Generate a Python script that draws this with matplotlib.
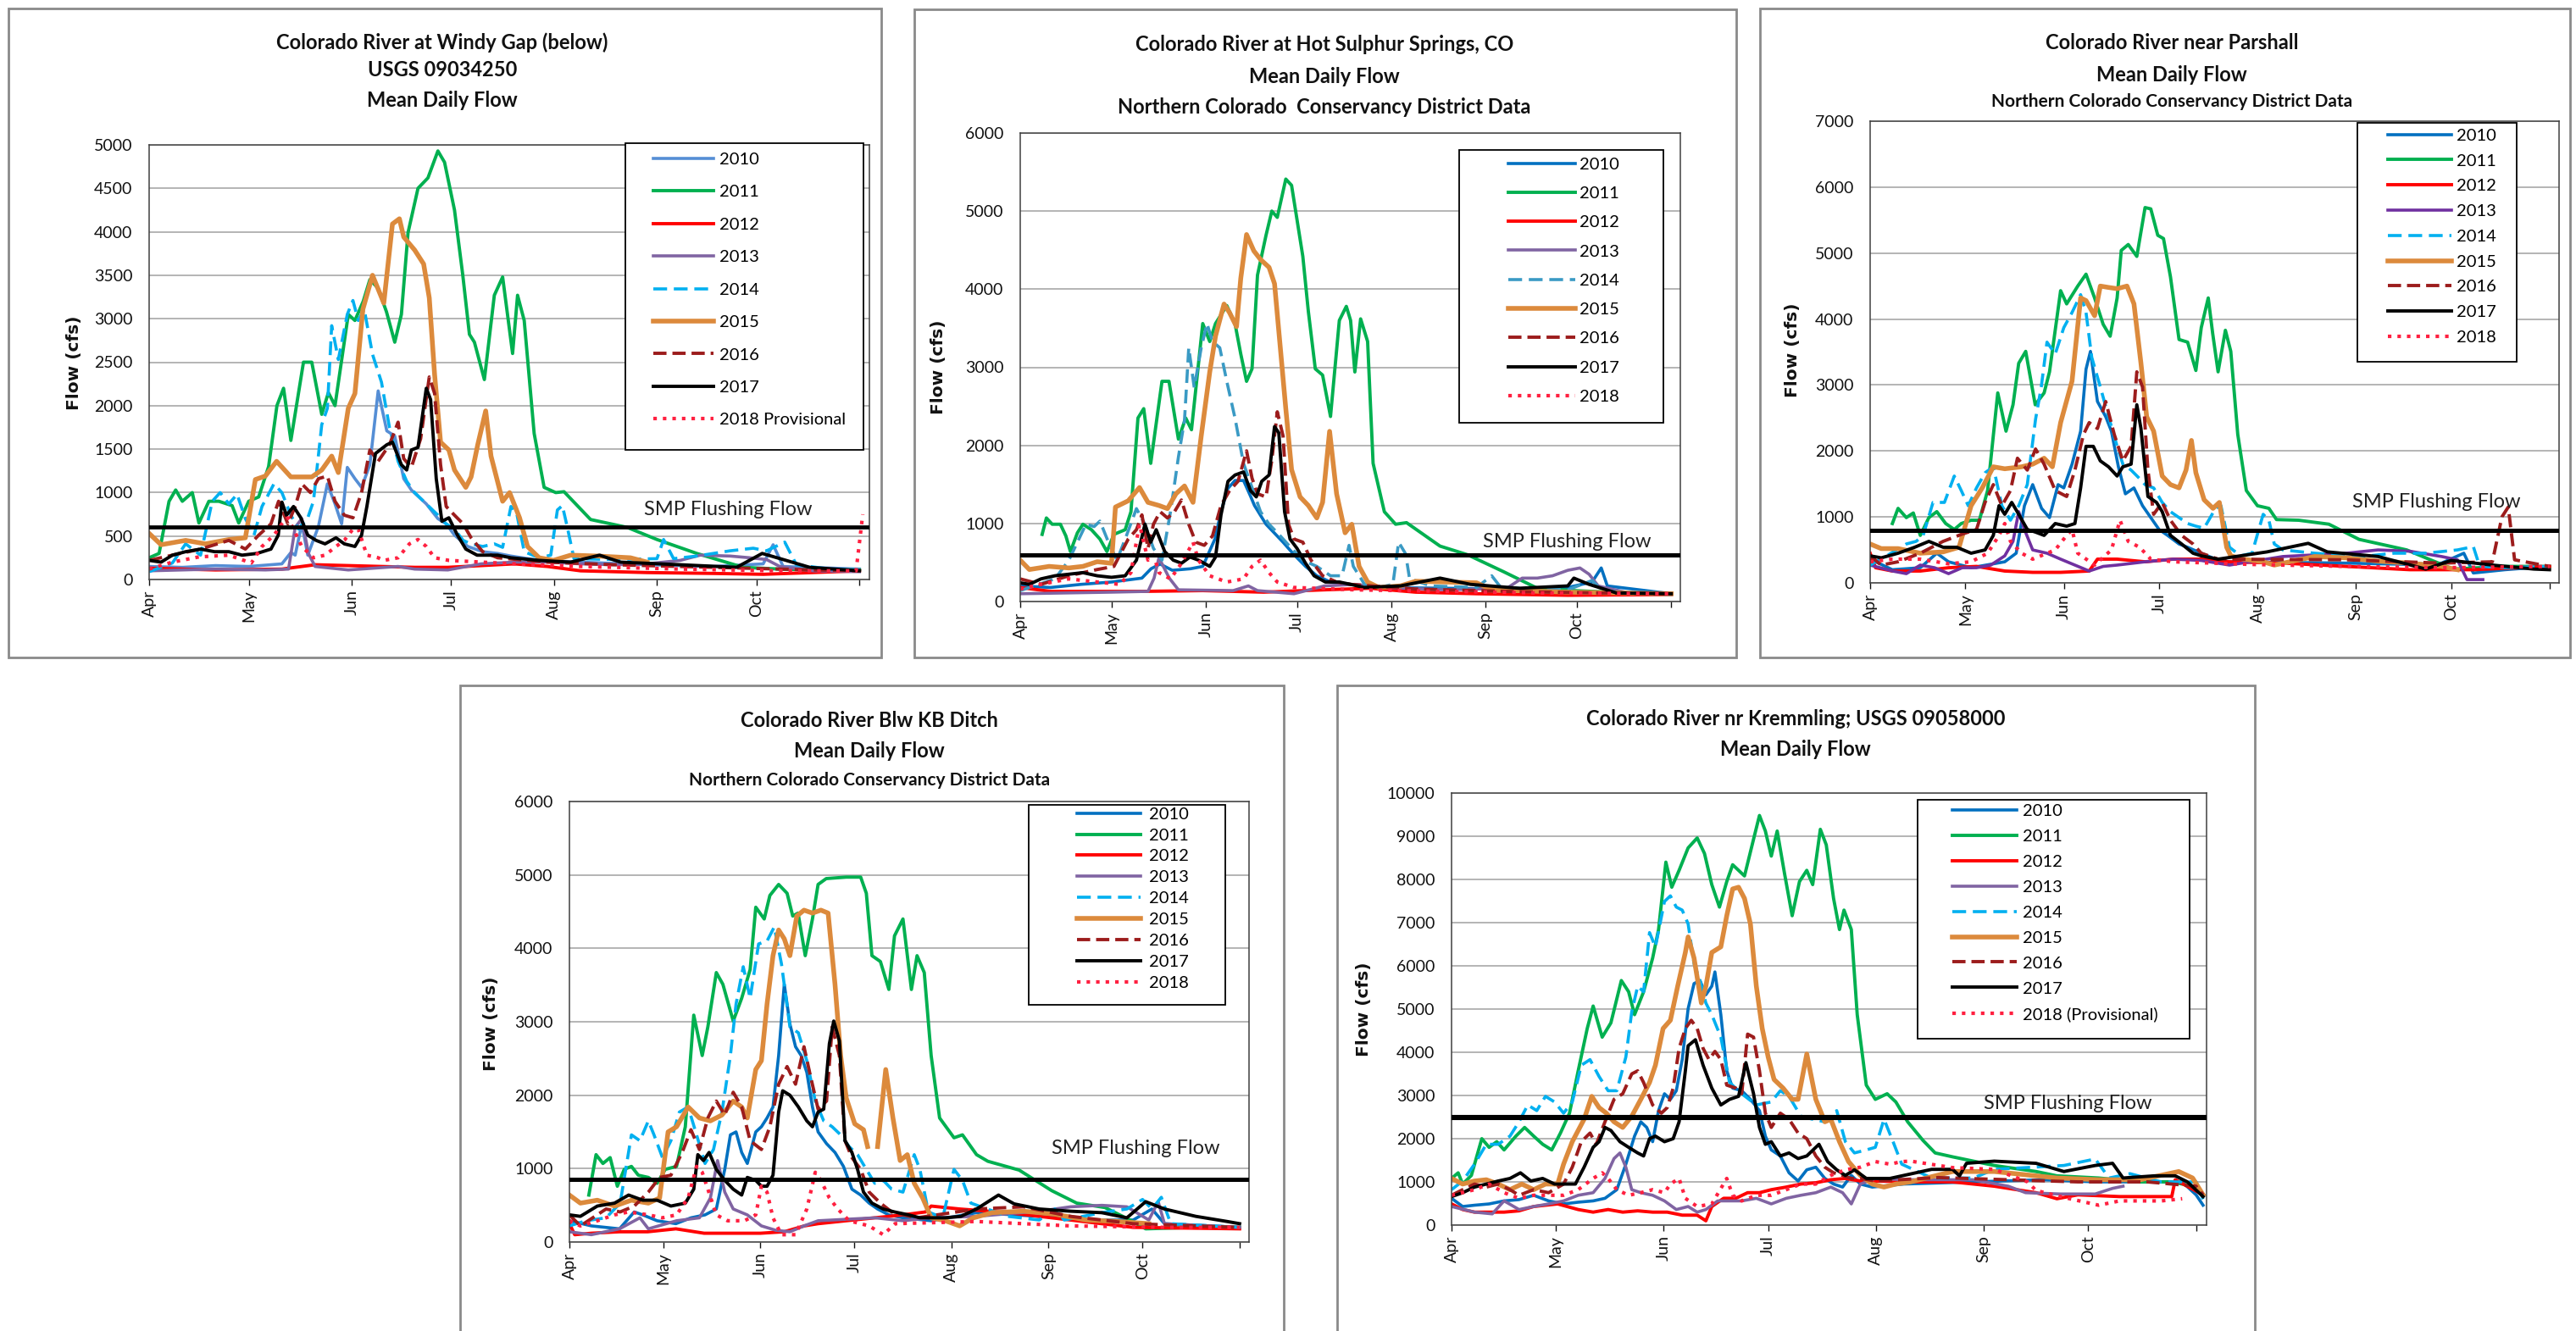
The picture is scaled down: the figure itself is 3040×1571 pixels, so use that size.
import numpy as np
import matplotlib
matplotlib.use("Agg")
import matplotlib.pyplot as plt
from matplotlib.patches import Rectangle

W, H = 3040, 1571
plt.rcParams["font.family"] = ["Lato", "DejaVu Sans"]
nan = float("nan")

YEARS = ["2010", "2011", "2012", "2013", "2014", "2015", "2016", "2017", "2018"]
MONTHS = ["Apr", "May", "Jun", "Jul", "Aug", "Sep", "Oct", ""]
MONTH_DAYS = [0, 30, 61, 91, 122, 153, 183, 214]   # days after Apr 1

# ---------------- Colorado River at Windy Gap (below) ----------------
wg_2010 = [(0,150),(10,140),(20,160),(30,150),(40,180),(42.7,310),(44,280),(46,640),(47.8,280),(51,610),(53.7,1100),(56,870),(58,640),(59.7,1290),(62,1160),(64,1060),(66.5,1320),(69,2170),(71.6,1710),(74,1650),(76.7,1160),(79,1030),(83.5,870),(87,700),(89.5,640),(92,510),(96,380),(100.5,320),(105,300),(109,270),(117.5,220),(130,200),(150,170),(170,150),(185,180),(188,400),(191,150),(214,120)]
wg_2011 = [(0,250),(3,300),(6,900),(8,1030),(10,900),(13,1000),(15,650),(18,900),(21,900),(25,850),(27,650),(30,900),(33,950),(36,1300),(38.5,2000),(40.5,2200),(42.7,1600),(46.5,2500),(49,2500),(52,1900),(54,2150),(56,2000),(60,3050),(62,2980),(64.5,3200),(66.5,3450),(69,3350),(71.5,3080),(74,2730),(76,3050),(78,3990),(81,4500),(84,4620),(87,4930),(89,4800),(92,4250),(94.5,3500),(96.5,2820),(98,2730),(101,2300),(104,3270),(106.5,3480),(109.5,2600),(111,3270),(113,2980),(116,1680),(119,1060),(122.5,1000),(125,1010),(133,690),(144,600),(153,460),(165,300),(179,140),(190,120),(200,110),(214,110)]
wg_2012 = [(0,130),(20,110),(40,120),(50,170),(60,160),(70,150),(80,140),(90,140),(100,160),(110,180),(120,150),(130,100),(150,80),(170,70),(185,60),(200,80),(214,100)]
wg_2013 = [(0,100),(20,120),(35,110),(42,120),(44,600),(46,700),(48,300),(50,150),(60,110),(75,150),(80,120),(90,110),(100,180),(110,200),(120,200),(130,180),(140,170),(150,180),(160,220),(166,280),(175,270),(181,250),(186,230),(190,150),(200,100),(214,90)]
wg_2014 = [(0,90),(7,190),(11,410),(15.5,280),(19,900),(21.4,1000),(24,870),(26.5,980),(29,700),(31.6,510),(34,840),(37.6,1100),(40,1000),(42.7,740),(45,580),(47.8,710),(49.5,900),(52,1780),(53.7,1970),(55,2920),(57,2530),(59.7,3050),(61.4,3210),(63,2980),(64.8,3110),(67.3,2590),(70,2270),(72.4,1750),(75,1360),(77.6,1130),(80,1000),(83.5,870),(87,740),(89.5,640),(92,580),(94.6,450),(97,410),(100.5,380),(104,410),(106.5,370),(109,840),(110.7,770),(113,320),(117.5,250),(121,280),(123,800),(124.5,850),(126,600),(128,240),(140,230),(153,240),(155,460),(158,240),(165,270),(175,330),(182,360),(186,330),(191.5,430),(195,170),(205,120),(214,110)]
wg_2015 = [(0,530),(3.6,400),(11,450),(17,410),(24,460),(29,480),(32,1150),(35,1190),(38.4,1360),(42.7,1180),(46,1180),(49,1180),(52,1260),(55,1420),(57,1230),(60,1970),(62,2140),(64.4,3110),(67.3,3500),(70.7,3180),(73.3,4090),(75.4,4150),(76.7,3940),(80,3790),(82.7,3630),(84.4,3240),(86,2360),(87.8,1580),(90.3,1490),(92,1260),(95.4,1060),(97,1180),(99,1550),(101.4,1940),(103,1420),(106.5,900),(108.6,1000),(111.6,710),(114,380),(117.5,250),(121.8,220),(127,280),(135,270),(145,250),(150,200)]
wg_2016 = [(0,220),(7,280),(15.5,350),(24,450),(29,350),(33,510),(36.7,640),(39,900),(41.8,640),(44,840),(46,1100),(48.6,1000),(51,1160),(53.7,1190),(56,900),(58.8,740),(61.4,710),(64,1000),(66.5,1490),(69,1360),(72.4,1550),(75,1810),(76.7,1390),(79,1290),(81.8,1620),(84.4,2330),(86,2140),(87.8,1320),(89.5,840),(92,740),(94.6,640),(97,480),(100.5,320),(105,250),(120,200),(140,170),(160,150),(180,130),(200,110),(214,100)]
wg_2017 = [(0,220),(3.6,200),(7,280),(11,320),(15.5,350),(19.7,320),(24,320),(28,280),(32.5,300),(36.7,350),(38.9,510),(40,890),(41.4,740),(43.5,840),(45.7,710),(47.8,510),(50.3,450),(53,410),(56.3,480),(58.8,410),(62,380),(64,510),(65.6,840),(68.2,1450),(71.6,1550),(73.3,1580),(76,1320),(77.6,1260),(79,1490),(81,1520),(83.5,2200),(84.8,2070),(86.5,1160),(88.2,670),(90.3,710),(92.9,510),(95.4,350),(98.8,280),(105,280),(109,250),(117.5,220),(127,200),(135.7,280),(142,200),(160,170),(177,140),(184.7,300),(191,230),(199,140),(214,100)]
wg_2018 = [(0,120),(7,200),(15,260),(24,280),(30.8,190),(34,380),(37.6,510),(40,640),(41.8,710),(43.5,580),(46,380),(49.5,250),(53,280),(56.3,380),(58.8,450),(61.4,580),(63,580),(65.6,280),(69,250),(70.7,220),(75,250),(78.4,410),(81,460),(83.5,380),(86,250),(90.3,220),(110,180),(130,150),(160,120),(190,100),(213,100),(215,750)]

# ---------------- Colorado River at Hot Sulphur Springs ----------------
hs_2010 = [(0,200),(10,180),(20,220),(30,250),(40,300),(43,420),(46,480),(50,400),(56,420),(60,450),(64,800),(66,1150),(68.3,1450),(70.6,1550),(73.4,1550),(75.7,1350),(77,1230),(80.8,990),(86.4,760),(90,600),(93.8,450),(97.5,330),(102,250),(108.6,220),(117.9,180),(140,170),(160,160),(180,180),(188,250),(191,430),(193,200),(214,100)]
hs_2011 = [(7.2,860),(8.6,1070),(10.5,990),(13.2,990),(15,840),(16.5,640),(18.8,880),(20.6,990),(23.4,920),(26.2,800),(28.5,640),(30.8,860),(34.5,920),(36.4,1150),(38.7,2350),(40.6,2470),(42.9,1770),(46.6,2820),(48.9,2820),(52,2080),(54.4,2350),(56.3,2200),(60,3560),(62.3,3330),(64.2,3560),(67.9,3790),(70.6,3560),(72.5,3170),(74.4,2820),(76.2,2980),(78,4180),(80.8,4690),(82.7,5000),(84.5,4920),(87.3,5410),(89.2,5330),(92.9,4420),(94.7,3720),(97,2980),(99.4,2900),(102,2370),(104.9,3600),(107.2,3780),(108.6,3600),(110,2940),(111.9,3620),(114.2,3330),(116,1770),(119.7,1150),(123.4,990),(127,1010),(138,710),(147,600),(159,380),(170,170),(182,140),(200,110),(214,100)]
hs_2012 = [(0,180),(10,130),(40,130),(60,140),(80,120),(100,150),(115,170),(130,120),(150,100),(180,80),(214,90)]
hs_2013 = [(0,100),(15,110),(30,120),(42,130),(44,300),(45.6,560),(49,300),(52,150),(70,140),(75,200),(78,140),(90,100),(100,200),(110,220),(120,180),(140,150),(160,170),(165,300),(170,300),(175,330),(180,400),(184,430),(187,350),(190,200),(200,110),(214,90)]
hs_2014 = [(0,140),(11.4,290),(16,530),(18.8,760),(21.6,990),(24.3,960),(26.2,1030),(29,760),(31.8,530),(34.5,800),(38.2,1190),(41,990),(43.8,680),(46.6,530),(49.4,1150),(52,1850),(54,2320),(55.4,3250),(57.2,2740),(59.5,3250),(61.4,3560),(63.2,3330),(65.6,3250),(67.9,2820),(70.6,2350),(73.4,1770),(76.2,1460),(79,1150),(81.8,990),(85.5,840),(89.2,680),(92.9,530),(97.5,450),(102,330),(105.8,330),(108.1,720),(109.5,450),(113.2,220),(117.9,180),(122.5,220),(124.4,760),(126.7,610),(128,290),(135,200),(150,180),(155,330),(158,180),(180,150),(188,270),(191,150),(200,100),(214,90)]
hs_2015 = [(0,530),(3,410),(9.5,450),(16,430),(20.6,450),(25.3,510),(30,490),(31.3,1210),(35.5,1290),(39.2,1460),(42,1270),(45.6,1230),(48.4,1190),(51.2,1380),(54,1480),(56.8,1270),(59.5,2120),(62.3,2940),(64.2,3400),(67,3810),(68.8,3700),(71.1,3520),(72.5,4140),(74.4,4700),(76.8,4490),(79,4380),(81.8,4280),(83.6,4070),(85.5,3250),(87.3,2470),(89.2,1690),(92,1340),(94.7,1230),(97.5,1070),(99.4,1270),(101.7,2180),(104,1380),(106.8,880),(109,990),(111.4,450),(114.2,250),(117.9,180),(125,200),(130,260),(150,240),(155,150),(180,120),(214,100)]
hs_2016 = [(0,290),(6.8,220),(16,330),(25.3,410),(30.8,450),(35.5,800),(38.2,920),(40,1110),(42,680),(43.8,990),(46,1150),(48.4,1070),(50.7,1150),(53,1300),(55.4,990),(57.7,760),(60.5,720),(63.2,840),(66,1230),(68.8,1420),(71.6,1540),(74.4,1930),(76.2,1580),(78,1380),(80.8,1340),(82.7,1810),(84.5,2430),(86.4,2120),(88.2,990),(90,800),(92.9,760),(95.6,530),(99.4,330),(104,250),(108.6,220),(130,160),(160,130),(190,110),(214,100)]
hs_2017 = [(0,240),(3,220),(6.8,290),(11.4,330),(16,350),(20.6,370),(25.3,330),(30,310),(34.5,330),(38.2,530),(41,990),(42.9,760),(44.7,920),(47.5,640),(50.3,530),(53,490),(55.8,570),(58.6,530),(62.3,450),(64.2,570),(66,1110),(68.3,1540),(70.6,1620),(73.4,1660),(75.7,1420),(77.6,1340),(79.4,1540),(81.8,1620),(83.6,2240),(85,2160),(86.9,1150),(88.7,800),(91,680),(93.8,490),(96.6,330),(100.3,250),(104.9,250),(108.6,220),(113,180),(125,200),(138,300),(148,220),(164,170),(180,200),(182,300),(187,220),(196,110),(214,100)]
hs_2018 = [(0,160),(6.8,220),(16,290),(25.3,250),(32.7,220),(36.4,370),(39.2,990),(42,530),(43.8,600),(45.6,370),(49.4,290),(53,490),(56.8,760),(58.6,530),(62.3,330),(67.9,250),(73.4,290),(76.2,450),(79,530),(81.8,370),(84.5,250),(90,180),(110,150),(140,130),(170,110),(214,100)]

# ---------------- Colorado River near Parshall ----------------
pa_2010 = [(0,360),(7,200),(15.8,230),(21,450),(24.7,320),(31.8,230),(42.4,320),(46,450),(48.6,1170),(51.2,1490),(54,1130),(56.5,990),(59.2,1490),(61,1440),(63.6,1800),(66.3,2300),(68,3240),(69.4,3510),(71.6,2750),(74.2,2520),(76,2300),(78.2,1760),(80.4,1350),(83.1,1440),(85.8,1170),(88.4,990),(91,810),(93.7,720),(97.3,590),(100,540),(104.3,450),(108.8,360),(113.2,320),(150,300),(170,280),(180,300),(187,450),(190,150),(200,200),(214,250)]
pa_2011 = [(7,900),(8.8,1130),(11.4,990),(13.6,1060),(15.8,720),(18.5,990),(21,1080),(23.8,900),(26.5,810),(28.7,900),(31.8,950),(34.4,950),(37,1400),(40.2,2880),(42.8,2300),(45,2700),(46.8,3330),(49,3510),(52,2700),(54.8,2880),(56.5,3200),(60,4430),(61.9,4230),(65.4,4500),(68,4680),(70.7,4320),(73.4,3920),(75.6,3740),(77.8,4320),(79.1,5040),(81.3,5130),(84,4950),(86.6,5690),(88.4,5670),(90.6,5270),(92.4,5220),(94.6,4640),(97.3,3690),(100,3650),(102.6,3220),(104.3,3870),(106.5,4320),(107.9,3780),(109.6,3200),(111.9,3830),(113.6,3510),(115.8,2250),(118.5,1400),(122,1170),(125.6,1130),(128,960),(135,950),(144.5,890),(154,660),(169,500),(177,340),(183.6,210),(200,250),(214,250)]
pa_2012 = [(0,450),(1.7,230),(7,180),(15.8,180),(24.7,230),(33.5,250),(42.4,180),(51.2,160),(60,160),(69,180),(71.6,360),(77.8,360),(86.6,320),(95.5,360),(104.3,360),(113,320),(130,300),(150,250),(170,200),(190,200),(214,250)]
pa_2013 = [(0,270),(7,180),(11.4,140),(15.8,270),(20.3,230),(24.7,140),(29,230),(33.5,230),(38,270),(42.4,410),(45,630),(46.8,1080),(48.6,810),(51.2,500),(55.7,450),(60,360),(64.5,270),(69,180),(73.4,250),(77.8,270),(86.6,320),(95.5,360),(104.3,340),(113.2,270),(130,400),(150,450),(160,500),(170,480),(180,400),(185,350),(188,50),(193,50)]
pa_2014 = [(0,270),(5.2,410),(11.4,590),(14.5,630),(16.7,720),(19.8,1220),(23.4,1220),(26.5,1620),(28.7,1400),(30.9,1170),(33.5,1440),(36.2,1670),(38.8,1760),(41.5,1170),(44.2,950),(46.8,1170),(49.5,1490),(52.1,2480),(53.9,2970),(55.7,3650),(58.3,3470),(61,3870),(63.6,4100),(66.3,4370),(68,4100),(69.8,3420),(72.5,2970),(75.1,2520),(77.8,2070),(79.6,1800),(82.2,1710),(84.9,1580),(86.6,1490),(89.3,1440),(92,1220),(94.6,1080),(97.3,990),(100,900),(102.6,860),(105.2,830),(108.8,1130),(110.5,1170),(113.2,540),(116.7,410),(120.3,450),(123.8,1040),(125.6,950),(127.3,590),(130,500),(140,450),(155,400),(165,450),(175,450),(185,500),(190,550),(192,250),(200,230),(214,250)]
pa_2015 = [(0,590),(3.5,520),(8.8,520),(15.8,450),(23,470),(28,540),(31.8,1170),(35.3,1440),(38.8,1760),(42.4,1730),(47.7,1760),(51.2,1800),(54.8,1890),(57.4,1760),(60,2430),(63.6,3060),(66.3,4320),(68,4280),(70.7,4050),(72.5,4500),(75,4480),(77.8,4460),(80.9,4500),(83.1,4230),(85.3,3330),(87.1,2520),(89.3,2300),(92,1620),(94.6,1490),(97.3,1440),(99.5,1710),(101.2,2160),(102.6,1670),(105.2,1260),(108,1130),(110,1220),(112.3,540),(113.6,410),(117.6,360),(123.8,320),(127.3,270),(140,400),(150,380),(160,330),(170,300),(180,250),(185,200)]
pa_2016 = [(0,410),(3.5,270),(8.8,320),(15.8,450),(23,630),(29,740),(33.5,810),(36.2,1220),(38.8,1490),(41.5,1170),(44.2,1400),(46.4,1890),(49.5,1710),(52.1,2030),(54.8,1800),(58.3,1400),(61.9,1310),(64.5,1710),(67.2,2250),(69,2430),(71.6,2340),(74.2,2750),(76.9,2250),(79.6,1850),(82.2,2070),(84,3200),(85.8,2970),(87.5,1710),(89.3,1040),(92,1220),(94.6,950),(98.1,720),(101.7,590),(104.3,450),(109.6,360),(150,350),(180,300),(196,320),(199,1000),(201,1150),(203,350),(214,250)]
pa_2017 = [(0,410),(3.5,380),(8.8,450),(14,540),(18.5,630),(23,540),(27.3,540),(31.8,450),(36.2,500),(38.8,720),(40.6,1170),(42.4,1040),(44.6,1220),(46.8,1040),(49.5,810),(52.1,770),(54.8,720),(58.3,900),(61.9,860),(64.5,900),(66.3,1440),(68,2070),(70.3,2070),(72.5,1850),(75.1,1760),(77.8,1620),(79.6,1760),(82.2,1800),(84,2700),(85.3,2340),(87.5,1310),(90.2,1220),(92,1080),(94.6,720),(98.1,590),(101.7,450),(104.3,410),(109.6,360),(125,470),(138,600),(144,470),(160,400),(175,210),(183,340),(196,270),(209,210),(214,200)]
pa_2018 = [(0,320),(7,360),(15.8,360),(24.7,290),(31.8,320),(37,450),(40.6,720),(42.4,900),(44.2,630),(47.7,450),(51.2,360),(58.3,500),(61.9,720),(63.6,810),(65.4,450),(70.7,270),(76,500),(78.7,950),(81.3,630),(84.9,540),(88.4,360),(95.5,320),(120,280),(150,250),(180,230),(214,250)]

# ---------------- Colorado River Blw KB Ditch ----------------
kb_2010 = [(0,290),(7,220),(16,180),(20.7,410),(23.4,370),(28,290),(34,250),(38.8,330),(43.3,370),(46.9,450),(49.6,990),(51.4,1460),(53.2,1500),(55,1220),(56.8,1070),(59.5,1500),(61.3,1570),(63.1,1690),(65,1840),(66.8,2540),(68.6,3510),(70.4,2970),(72.2,2660),(74,2540),(75.8,2310),(77.6,1840),(79.4,1500),(82.1,1340),(84.8,1220),(87.5,1030),(90.2,720),(93,640),(95.7,530),(98.4,450),(102,370),(106.5,330),(115.5,290),(130,400),(150,350),(170,300),(180,300),(186,450),(190,250),(214,200)]
kb_2011 = [(6.2,640),(8.5,1190),(10.7,1070),(13,1150),(15.3,760),(17.5,990),(19.8,1030),(22,910),(25.2,880),(28,800),(30.6,990),(34.2,1030),(37,1570),(39.7,3090),(42.4,2540),(44.2,2930),(46.9,3670),(49,3510),(52.3,3010),(55,3320),(57.7,3710),(59.5,4560),(62.2,4400),(64,4720),(66.8,4870),(69.5,4750),(71.3,4440),(73,4480),(75.3,3900),(77.6,4400),(79.4,4870),(82,4950),(88.4,4970),(93,4970),(94.8,4750),(96.6,3900),(99.3,3820),(102,3440),(103.8,4170),(106.5,4400),(109.2,3440),(111,3900),(113.3,3670),(115.5,2540),(118.2,1690),(122.8,1420),(125.5,1460),(130,1190),(133.6,1100),(143.6,980),(154,700),(162,530),(171,470),(179,300),(184,180),(200,200),(214,200)]
kb_2012 = [(0,250),(1.7,100),(7,120),(16,140),(25,140),(34,180),(43,120),(52,120),(61,120),(68.6,140),(75,220),(79.4,250),(88.4,290),(97.5,330),(106.5,370),(113.7,410),(115.5,490),(124.6,450),(140,400),(160,300),(180,200),(214,180)]
kb_2013 = [(0,140),(7,100),(16,180),(22.5,330),(25.2,180),(34.2,290),(41.5,330),(45,600),(47.3,1110),(49.6,680),(52.3,450),(56.8,370),(61.3,220),(65.9,160),(70.4,140),(74.9,220),(79.4,290),(88.4,310),(97.5,330),(106.5,290),(115.5,330),(130,350),(150,420),(160,480),(170,500),(178,480),(185,300),(188,550),(190,250),(214,200)]
kb_2014 = [(0,220),(5.3,290),(11.7,330),(16.2,530),(19.8,1460),(22.5,1380),(25.2,1650),(27,1460),(29.7,1150),(32.4,1380),(35.1,1770),(37.9,1840),(40.6,1460),(43.3,1070),(46,1260),(48.7,1770),(51.4,2540),(53.2,3240),(55.5,3750),(57.7,3320),(60.4,4060),(63.1,4100),(65.4,4290),(67.7,3790),(70.4,2930),(73.1,2850),(75.8,2470),(78.5,1920),(81.2,1650),(83.9,1570),(86.6,1460),(89.3,1300),(92,1190),(94.8,990),(97.5,800),(100.2,840),(102.9,720),(106.5,680),(110.1,1190),(111.9,990),(114.6,410),(119.2,330),(122.8,990),(125.5,840),(128.2,530),(140,350),(150,300),(155,450),(158,300),(170,400),(178,450),(183,580),(186,450),(189,610),(192,250),(214,200)]
kb_2015 = [(0,640),(3.5,530),(8.9,570),(14.4,490),(19.8,570),(25.2,530),(28.8,600),(31.5,1500),(34.2,1570),(37.9,1840),(41.5,1690),(45,1650),(48.7,1730),(52.3,1920),(55,1840),(56.8,1690),(59.5,2350),(61.3,2470),(63.1,3240),(65,3900),(66.8,4250),(68.6,4130),(70.4,3900),(72.6,4440),(74.9,4520),(77.6,4480),(80.3,4520),(82.6,4480),(84.8,3510),(86.6,2540),(88.4,1960),(91.1,1610),(93.9,1530),(95.2,1300),(96.8,nan),(98.4,1300),(101,2350),(103.3,1690),(105.6,1110),(107.9,1190),(110.1,800),(112.8,600),(115.5,330),(120,290),(124.6,220),(129,330),(135,400),(145,420),(155,380),(165,300),(175,280),(185,250)]
kb_2016 = [(0,370),(3.5,220),(11.7,450),(16.2,410),(20.7,490),(25.2,680),(28.8,880),(32.4,910),(36,1220),(38.8,1530),(41.5,1260),(44.2,1690),(46.9,1920),(49.6,1730),(52.3,2040),(55,1840),(57.7,1380),(61.3,1260),(64,1570),(66.8,2150),(69.5,2390),(72.2,2150),(74.9,2660),(76.7,2310),(79.4,1810),(82.1,1920),(83.9,2930),(86.2,2540),(88,1380),(90.2,1150),(93,990),(95.7,680),(99.3,530),(102.9,410),(106.5,370),(111,330),(130,450),(145,480),(160,350),(180,250),(214,200)]
kb_2017 = [(0,370),(3.5,350),(8.9,490),(14.4,530),(18.9,640),(23.4,570),(28,570),(32.4,490),(37,530),(39.7,720),(41,1190),(42.8,1110),(44.6,1220),(46.9,990),(49.6,840),(52.3,720),(55,640),(56.8,880),(59.5,840),(61.3,760),(63.1,760),(65,910),(66.8,1770),(68.1,2060),(70.4,2000),(73.1,1840),(75.8,1650),(77.6,1570),(79.4,1770),(81.2,1810),(83,2700),(84.4,3010),(86.2,2740),(88,1380),(90.2,1220),(92,990),(93.9,680),(96.6,530),(100.2,450),(103.8,410),(108.3,370),(111.9,330),(120,330),(125,350),(130,450),(137,640),(142,520),(150,450),(160,420),(170,400),(178,330),(184,550),(190,450),(200,350),(210,280),(214,250)]
kb_2018 = [(0,290),(3.5,220),(8.9,290),(14.4,370),(18.9,410),(25.2,370),(29.7,330),(34.2,370),(37.9,600),(40.6,1030),(42.4,950),(44.2,720),(46.9,370),(50.5,290),(55.9,290),(59.5,370),(61.3,760),(63.1,680),(65,330),(67.7,100),(72.2,100),(75.8,450),(78.5,950),(80.3,840),(83,600),(85.7,450),(89.3,290),(95.7,220),(100.2,100),(104,250),(130,280),(160,220),(190,200),(214,200)]

# ---------------- Colorado River nr Kremmling ----------------
kr_2010 = [(0,620),(3.2,430),(6.6,460),(10.8,490),(15.1,560),(19.4,590),(23.6,690),(27.9,560),(32.2,490),(36.4,530),(40.7,560),(44.1,620),(47.5,820),(50.1,1410),(52.6,2060),(54.4,2390),(56.1,2260),(57.8,1930),(59.5,2650),(61.2,3040),(62.9,2910),(64.6,3110),(66.3,3830),(68,5010),(69.7,5590),(71.4,5660),(73.1,5330),(74.8,5530),(75.7,5860),(77.4,4870),(79.1,3570),(80.8,3170),(83.4,3110),(85.9,2910),(88.5,2650),(90.2,2060),(91.9,1740),(94.5,1600),(97,1210),(99.6,1020),(102.1,1280),(104.7,1340),(107.3,1080),(109.8,950),(112.4,880),(114.9,1150),(117.5,950),(120.9,880),(130,950),(150,1000),(170,1050),(185,1000),(200,1000),(210,1000),(214,700),(216,460)]
kr_2011 = [(0,1080),(1.9,1210),(3.2,950),(5.7,1150),(8.7,2000),(10.8,1800),(13,1930),(15.1,1740),(18.5,2060),(21,2260),(23.6,2060),(26.2,1870),(28.8,1740),(31.3,2130),(33.9,2590),(36.4,3570),(39,4550),(40.7,5070),(43.3,4350),(45.8,4680),(48.8,5660),(50.9,5400),(52.6,4870),(55.2,5400),(57.8,6180),(59.5,6840),(61.6,8400),(63.3,7820),(65.4,8210),(68,8730),(70.6,8960),(72.7,8600),(74.8,7880),(77,7360),(79.1,7950),(80.8,8340),(82.5,8210),(84.2,8080),(86.8,8930),(88.5,9480),(90.2,9120),(91.9,8540),(93.6,9120),(95.7,8140),(97.9,7160),(100,7950),(102.1,8210),(103.8,7880),(106,9160),(107.7,8800),(109.8,7560),(111.5,6840),(112.8,7290),(114.9,6840),(116.6,4870),(119.2,3240),(121.8,2910),(125.2,3040),(127.7,2850),(131.1,2390),(135.5,1960),(139,1670),(144,1580),(150,1480),(156,1380),(168,1240),(174,1140),(186,1090),(198,1000),(207,1000),(213,900),(216,700)]
kr_2012 = [(0,490),(3.2,360),(6.6,300),(15.1,300),(19.4,330),(23.6,430),(30.5,490),(36.4,360),(40.7,300),(45,360),(49.2,300),(53.5,330),(57.8,300),(62,300),(66.3,230),(70.6,230),(73.1,100),(74.8,430),(78.2,620),(81.7,620),(85.1,750),(88.5,750),(91.9,820),(96.2,880),(100.4,950),(104.7,980),(109,1050),(113.2,1080),(117.5,1020),(121.8,1020),(132,1000),(144,1000),(156,900),(168,750),(174,610),(180,700),(192,660),(207,660),(208,1050),(216,700)]
kr_2013 = [(0,430),(6.6,300),(11.7,260),(15.1,560),(19.4,360),(23.6,430),(27.9,490),(32.2,560),(36.4,690),(40.7,750),(44.1,1080),(46.7,1540),(48.4,1670),(50.1,1340),(51.8,820),(54.4,750),(57.8,690),(61.2,560),(64.6,360),(68,430),(70.6,300),(73.1,360),(76.5,560),(79.9,560),(83.4,560),(87.6,620),(91.9,490),(96.2,620),(100.4,690),(104.7,750),(109,880),(112.4,750),(114.9,490),(117.5,950),(121.8,1080),(130,1050),(150,1050),(160,900),(165,750),(175,720),(185,720),(190,850),(193,900)]
kr_2014 = [(0,820),(3.2,1020),(6.6,1410),(10,1870),(13.4,1870),(16.8,2060),(19.4,2390),(21.9,2780),(24.5,2650),(27,2980),(29.6,2850),(32.2,2590),(34.7,2850),(37.3,3700),(39.8,3830),(42.4,3440),(45,3110),(47.5,3110),(50.1,3890),(51.8,4940),(53.5,5530),(55.2,5400),(56.9,6770),(58.6,6440),(61.2,7490),(62.9,7620),(64.6,7360),(66.3,7290),(68,6970),(69.7,6050),(71.4,5660),(73.1,5140),(74.8,4870),(77.4,4350),(79.9,3300),(83.4,3040),(87.6,2780),(91.9,2850),(94.5,3110),(97,2980),(100.4,2520),(103.8,2450),(107.3,2390),(110.7,2650),(113.2,1930),(115.8,1670),(119.2,1740),(121.8,1800),(124.3,2450),(126.9,1930),(129.4,1410),(138,1090),(150,1090),(156,1290),(176,1380),(185,1530),(189,1090),(195,1190),(204,1000),(214,1000),(216,600)]
kr_2015 = [(0,1080),(3.2,950),(6.6,1020),(10,1050),(13.4,950),(16.8,820),(20.2,950),(23.6,820),(27,950),(30.5,950),(32.2,1410),(34.7,1930),(38.1,2450),(40.3,2980),(42.4,2720),(44.5,2590),(46.7,2390),(49.2,2260),(51.8,2520),(54.4,2910),(56.9,3300),(58.6,3700),(60.8,4550),(62.9,4740),(65,5530),(67.2,6310),(68,6670),(69.7,6180),(71.8,5140),(73.1,5530),(74.8,6310),(77.4,6440),(79.1,7160),(80.8,7780),(82.5,7820),(84.2,7560),(85.9,6970),(87.6,5530),(89.3,4550),(91,3890),(92.7,3370),(95.3,3170),(97.9,2910),(99.6,2910),(102.1,3960),(104.7,2910),(107.3,2390),(109,2450),(111.5,1930),(114.1,1470),(117.5,1150),(120.9,950),(124.3,880),(127.7,950),(132,1000),(144,1240),(156,1240),(174,1090),(186,1050),(198,1050),(209,1240),(213,1090),(216,700)]
kr_2016 = [(0,690),(3.2,820),(6.6,950),(10,880),(13.4,950),(16.8,820),(19.4,690),(23.6,820),(27.9,750),(32.2,950),(34.7,1340),(37.3,1930),(39.8,2130),(41.6,1870),(44.1,2390),(46.7,2910),(49.2,3040),(51.8,3500),(53.5,3570),(55.2,3300),(57.8,2780),(60.3,2590),(62,2720),(63.7,3170),(65.4,4090),(67.2,4550),(68.9,4740),(70.6,4550),(72.3,4090),(74,3830),(75.7,4020),(77.4,3830),(79.1,3240),(81.7,3170),(83.4,3040),(85.1,4420),(86.8,4350),(88.5,3570),(90.2,2590),(91.9,2260),(94.5,2590),(97,2450),(99.6,2130),(102.1,2000),(104.7,1600),(107.3,1340),(109.8,1210),(112.4,1150),(114.9,1080),(117.5,1080),(121.8,1020),(140,1100),(160,1050),(180,1000),(200,1000),(214,900),(216,700)]
kr_2017 = [(0,660),(3.2,750),(6.6,880),(10,950),(13.4,1020),(16.8,1080),(19.8,1210),(22.8,1020),(26.2,1080),(29.6,950),(32.2,950),(35.6,950),(38.1,1340),(40.7,1800),(42.4,1930),(44.1,2260),(45.8,2190),(48.4,1930),(50.9,1800),(53.5,1670),(55.2,1600),(56.9,2000),(58.6,2060),(61.2,1930),(63.7,2000),(65.4,2390),(67.2,3570),(68,4150),(70.1,4290),(72.3,3700),(74.8,3170),(77.4,2780),(79.9,2910),(82.5,2980),(84.6,3760),(86.8,3040),(88.5,2260),(90.2,1870),(91.9,1930),(94.5,1600),(97,1670),(99.6,1540),(102.1,1600),(105.6,1870),(108.1,1470),(110.7,1280),(113.2,1150),(115.8,1280),(119.2,1080),(122.6,1080),(126,1080),(138,1290),(144,1290),(146,1140),(148,1430),(156,1480),(168,1430),(176,1240),(185,1380),(190,1430),(193,1090),(202,1140),(208,1140),(211.5,1000),(216,660)]
kr_2018 = [(0,690),(6.6,820),(10.8,950),(15.1,750),(19.4,620),(23.6,690),(27.9,690),(32.2,690),(36.4,820),(40.7,1080),(43.3,1210),(45,1080),(47.5,820),(50.9,690),(54.4,750),(57.8,820),(61.2,750),(62.9,950),(65.4,1080),(67.2,620),(70.6,430),(74.8,490),(79.1,1080),(80.8,690),(83.4,560),(87.6,690),(91.9,690),(96.2,820),(100.4,950),(104.7,950),(109,1150),(113.2,1280),(117.5,1340),(121.8,1470),(126,1410),(129.4,1470),(132,1480),(144,1330),(156,1290),(165.6,1000),(168,800),(177.7,610),(186,460),(192,560),(204,560),(210,610)]

# year styles: colour, line style, width (points)
STYLE = {
    "2010": ("#0070C0", "-", 2.6),
    "2011": ("#00B050", "-", 2.8),
    "2012": ("#FF0000", "-", 2.8),
    "2013": ("#8064A2", "-", 2.6),
    "2014": ("#00B0F0", (0, (4.5, 2.2)), 2.6),
    "2015": ("#DC8A3C", "-", 4.0),
    "2016": ("#9C1C1C", (0, (4, 1.8)), 2.8),
    "2017": ("#000000", "-", 2.8),
    "2018": ("#FF2040", (0, (1, 1.7)), 3.0),
}

PANELS = [
    dict(title=["Colorado River at Windy Gap (below)", "USGS 09034250", "Mean Daily Flow"],
         sizes=[17, 17, 17], series=[wg_2010, wg_2011, wg_2012, wg_2013, wg_2014, wg_2015, wg_2016, wg_2017, wg_2018],
         last="2018 Provisional", ymax=5000, ystep=500, smp=600, smp_txt=(149, 800),
         recolor={"2010": "#558ED5"}),
    dict(title=["Colorado River at Hot Sulphur Springs, CO", "Mean Daily Flow", "Northern Colorado  Conservancy District Data"],
         sizes=[17, 17, 17], series=[hs_2010, hs_2011, hs_2012, hs_2013, hs_2014, hs_2015, hs_2016, hs_2017, hs_2018],
         last="2018", ymax=6000, ystep=1000, smp=600, smp_txt=(152, 770),
         recolor={"2014": "#3A9AC4"}),
    dict(title=["Colorado River near Parshall", "Mean Daily Flow", "Northern Colorado Conservancy District Data"],
         sizes=[17, 17, 15], series=[pa_2010, pa_2011, pa_2012, pa_2013, pa_2014, pa_2015, pa_2016, pa_2017, pa_2018],
         last="2018", ymax=7000, ystep=1000, smp=800, smp_txt=(152, 1230),
         recolor={"2013": "#7030A0"}),
    dict(title=["Colorado River Blw KB Ditch", "Mean Daily Flow", "Northern Colorado Conservancy District Data"],
         sizes=[17, 17, 15], series=[kb_2010, kb_2011, kb_2012, kb_2013, kb_2014, kb_2015, kb_2016, kb_2017, kb_2018],
         last="2018", ymax=6000, ystep=1000, smp=850, smp_txt=(154, 1270), recolor={}),
    dict(title=["Colorado River nr Kremmling; USGS 09058000", "Mean Daily Flow"],
         sizes=[17, 17], series=[kr_2010, kr_2011, kr_2012, kr_2013, kr_2014, kr_2015, kr_2016, kr_2017, kr_2018],
         last="2018 (Provisional)", ymax=10000, ystep=1000, smp=2500, smp_txt=(153, 2820), recolor={}),
]

# layout in pixels of the 3040x1571 canvas
LAYOUT = [
    dict(border=(10, 10, 1040, 776), axes=(176, 171, 1026, 684), title_x=522, title_y=[50, 83, 118],
         ylab=(87, 428), leg=(771, 189, 40.1, 71, 849), frame=(738, 169, 1019, 531), smp_lw=3.4),
    dict(border=(1079, 11, 2049, 776), axes=(1204, 157, 1983, 710), title_x=1563, title_y=[53, 90, 127],
         ylab=(1108, 433), leg=(1780, 195, 35.9, 79, 1864), frame=(1722, 177, 1963, 499), smp_lw=3.6),
    dict(border=(2077, 10, 3033, 776), axes=(2207, 143, 3020, 688), title_x=2563, title_y=[50, 88, 120],
         ylab=(2115, 413), leg=(2818, 161, 31.4, 75, 2899), frame=(2782, 145, 2970, 427), smp_lw=3.6),
    dict(border=(543, 809, 1515, 1580), axes=(672, 946, 1474, 1466), title_x=1026, title_y=[851, 886, 921],
         ylab=(579, 1208), leg=(1271, 962, 26.5, 75, 1356), frame=(1214, 950, 1446, 1186), smp_lw=3.6),
    dict(border=(1578, 809, 2661, 1580), axes=(1713, 936, 2604, 1446), title_x=2119, title_y=[849, 884],
         ylab=(1610, 1191), leg=(2304, 958, 31.6, 76, 2387), frame=(2263, 944, 2584, 1226), smp_lw=4.4),
]

XMAX = 217
LEG_FS = 14.5
FS_PX = LEG_FS * 100 / 72


def fx(x):
    return x / W


def fy(y):
    return 1 - y / H


fig = plt.figure(figsize=(W / 100, H / 100), dpi=100, facecolor="white")

for spec, lay in zip(PANELS, LAYOUT):
    x0, y0, x1, y1 = lay["axes"]
    ax = fig.add_axes([fx(x0), fy(y1), (x1 - x0) / W, (y1 - y0) / H])

    for year, data in zip(YEARS, spec["series"]):
        color, ls, lw = STYLE[year]
        color = spec["recolor"].get(year, color)
        d, q = zip(*data)
        label = spec["last"] if year == "2018" else year
        ax.plot(d, q, color=color, linestyle=ls, linewidth=lw, label=label,
                solid_joinstyle="round")

    ax.axhline(spec["smp"], color="black", linewidth=lay["smp_lw"], zorder=3)
    ax.text(spec["smp_txt"][0], spec["smp_txt"][1], "SMP Flushing Flow", fontsize=17,
            ha="left", va="center", color="#222222")

    ax.set_xlim(0, XMAX)
    ax.set_ylim(0, spec["ymax"])
    ax.set_yticks(np.arange(0, spec["ymax"] + 1, spec["ystep"]))
    ax.set_xticks(MONTH_DAYS)
    ax.set_xticklabels(MONTHS, rotation=90)
    ax.grid(axis="y", color="#A0A0A0", linewidth=1.1)
    ax.set_axisbelow(True)
    for sp in ax.spines.values():
        sp.set_color("#404040")
        sp.set_linewidth(1.1)
    ax.tick_params(axis="y", length=0, pad=14, labelsize=14, colors="#111111")
    ax.tick_params(axis="x", length=5, width=1, direction="out", pad=4, labelsize=14,
                   colors="#111111")

    # legend: lines and labels from the plotted series, white framed box
    hx, hy, pitch, hlen, tx = lay["leg"]
    ls_ = pitch / FS_PX - 0.93
    top = hy - 0.465 * FS_PX
    ax.legend(loc="upper left", bbox_to_anchor=(fx(hx), fy(top)), bbox_transform=fig.transFigure,
              frameon=False, borderpad=0, borderaxespad=0, fontsize=LEG_FS,
              handlelength=hlen / FS_PX, handletextpad=(tx - hx - hlen) / FS_PX,
              labelspacing=ls_)
    bx0, by0, bx1, by1 = lay["frame"]
    ax.add_patch(Rectangle((fx(bx0), fy(by1)), (bx1 - bx0) / W, (by1 - by0) / H,
                           transform=fig.transFigure, facecolor="white", edgecolor="black",
                           linewidth=1.3, zorder=4.5, clip_on=False))

    for line, size, ty in zip(spec["title"], spec["sizes"], lay["title_y"]):
        fig.text(fx(lay["title_x"]), fy(ty), line, ha="center", va="center",
                 fontsize=size, fontweight="bold", color="#111111")

    fig.text(fx(lay["ylab"][0]), fy(lay["ylab"][1]), "Flow (cfs)", rotation=90,
             ha="center", va="center", fontsize=14.5, fontweight="bold",
             family=["DejaVu Sans"], color="#111111")

    bx0, by0, bx1, by1 = lay["border"]
    fig.add_artist(Rectangle((fx(bx0), fy(by1)), (bx1 - bx0) / W, (by1 - by0) / H,
                             transform=fig.transFigure, fill=False, edgecolor="#8A8A8A",
                             linewidth=2.0))

fig.savefig("out.png", dpi=100, facecolor="white")
